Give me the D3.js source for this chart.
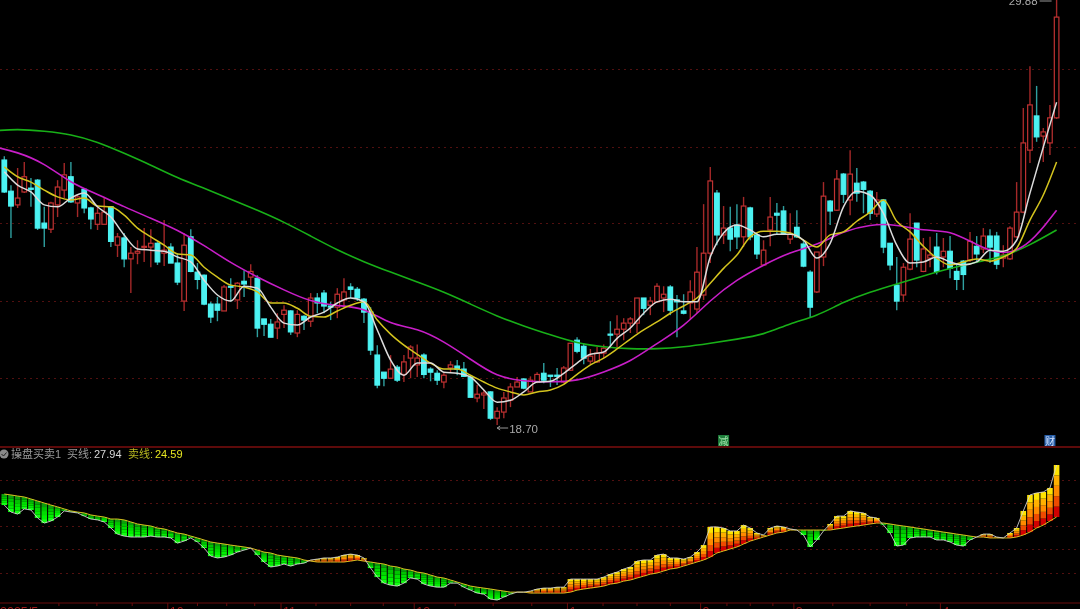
<!DOCTYPE html>
<html><head><meta charset="utf-8">
<script src="https://cdn.jsdelivr.net/npm/d3@7/dist/d3.min.js"></script>
<style>
html,body{margin:0;padding:0;background:#000;overflow:hidden}
svg{display:block;filter:blur(0.45px)}
text{font-family:"Liberation Sans","Noto Sans CJK SC",sans-serif}
</style></head><body>
<svg id="c" width="1080" height="609"></svg>
<script>
const direction = ("CCRRCCCRRR"+"CRCCRRCRCR"+"RRRCRCCRCC"+"CCCRCRCRCC"+"CRRCRCRCCC"+"RRCCCCCCRC"+"RRRCCCRRCC"+"CRRCRRRRCR"+"RCCCRRCCRR"+"RCRRRRCRRR"+"CCCRRRRCRC"+"CRCCRRCCRC"+"CCRRCRCRCC"+"CRCCCRRCRR"+"CRCCCRCRCC"+"RRRRRCRRR").split("");
const highs = [25.77,25.01,25.46,25.62,25.20,25.17,24.44,24.57,25.14,25.59,
25.62,24.75,24.93,24.44,24.46,24.70,24.46,23.75,23.75,23.38,
23.56,23.88,23.85,23.51,24.09,23.48,23.22,23.75,23.85,22.96,
22.66,21.94,22.07,22.38,22.56,22.46,22.77,22.93,22.64,21.49,
21.49,21.64,21.85,21.72,21.72,21.59,22.17,22.17,22.25,21.94,
22.30,22.56,22.43,22.33,22.04,21.80,20.80,20.09,20.54,20.28,
20.54,20.80,20.82,20.59,20.22,20.14,20.09,20.38,20.41,20.36,
20.01,19.75,19.62,19.59,19.17,19.57,19.80,19.96,19.93,19.98,
20.09,20.33,20.01,20.20,20.25,20.85,21.01,20.85,20.70,20.75,
20.82,21.43,21.59,21.51,21.54,22.04,22.04,22.07,22.43,22.35,
22.38,22.12,22.14,22.51,23.38,24.51,25.49,24.88,24.46,24.44,
24.51,24.70,24.44,23.75,23.56,24.70,24.54,24.46,24.27,24.35,
23.56,22.77,23.25,25.09,24.62,25.41,25.33,25.93,25.46,25.12,
24.88,24.83,24.64,23.48,23.12,22.96,24.27,24.01,23.62,23.65,
23.75,23.62,23.67,22.96,23.04,23.78,23.67,23.88,23.85,23.78,
23.43,23.93,25.09,27.04,28.14,27.62,26.51,27.12,29.88];
const bodyHighs = [25.67,24.85,24.67,25.23,24.93,25.14,24.01,24.54,24.96,25.28,
25.23,24.70,24.90,24.41,24.27,24.30,24.44,23.65,23.62,23.22,
23.27,23.40,23.48,23.48,23.30,23.38,22.96,23.43,23.65,22.72,
22.64,21.88,21.88,22.33,22.35,22.43,22.48,22.74,22.56,21.49,
21.35,21.41,21.72,21.70,21.61,21.56,22.04,22.04,22.17,21.83,
22.14,22.20,22.33,22.27,22.01,21.67,20.54,20.09,20.17,20.22,
20.36,20.75,20.46,20.54,20.17,20.06,20.01,20.28,20.25,20.17,
19.96,19.51,19.54,19.57,19.06,19.41,19.70,19.83,19.91,19.88,
20.03,20.06,20.01,20.01,20.20,20.85,20.93,20.77,20.51,20.59,
20.72,21.09,21.22,21.38,21.49,22.04,22.04,21.96,22.35,22.14,
22.33,21.99,21.70,22.20,22.72,23.22,25.12,24.80,23.88,23.88,
23.96,24.46,24.41,23.70,23.30,24.17,24.27,24.33,23.72,23.90,
23.46,22.72,23.25,24.72,24.59,25.17,25.30,25.30,25.06,25.09,
24.85,24.62,24.62,23.48,22.38,22.85,23.59,24.01,23.33,23.17,
23.38,23.27,23.27,22.74,23.01,23.53,23.40,23.67,23.67,23.67,
23.17,23.88,24.30,26.12,27.12,26.83,26.41,26.78,29.43];
const bodyLows = [24.83,24.46,24.49,24.83,24.90,23.88,23.88,23.85,24.49,24.88,
24.57,24.54,24.41,24.12,23.98,23.98,23.53,23.43,23.07,23.07,
23.22,23.38,23.38,22.99,23.22,22.96,22.46,21.96,22.74,22.53,
21.88,21.54,21.72,21.70,22.33,21.99,22.41,22.59,21.25,21.35,
21.01,21.25,21.61,21.15,21.12,21.46,21.43,21.91,21.83,21.80,
21.80,21.99,22.27,22.04,21.67,20.67,19.75,19.93,19.93,19.88,
20.03,20.46,20.28,20.03,20.09,19.88,19.83,20.20,20.17,19.98,
19.43,19.41,19.49,18.88,18.88,19.04,19.35,19.70,19.67,19.57,
19.83,19.88,19.98,19.98,19.83,20.14,20.64,20.46,20.38,20.36,
20.59,21.07,21.09,21.22,21.38,21.38,21.77,21.85,21.94,22.04,
21.72,21.94,21.64,21.91,21.75,22.12,23.22,23.70,23.70,23.59,
23.65,23.65,23.65,23.20,22.91,23.83,24.22,23.72,23.59,23.65,
22.88,21.80,22.20,23.12,24.33,24.35,24.77,24.62,24.80,24.90,
24.27,24.25,23.38,22.91,21.96,22.12,22.80,23.04,22.74,23.09,
22.74,23.12,22.82,22.53,22.66,23.04,23.20,23.33,23.38,22.93,
23.09,23.07,23.65,24.30,25.93,26.28,26.30,26.12,26.78];
const lows = [24.80,23.62,24.41,24.80,24.44,23.83,23.38,23.75,24.17,24.67,
24.54,24.17,24.27,23.85,23.83,23.98,23.38,23.12,22.85,22.17,
22.93,22.99,22.85,22.91,22.88,22.96,22.38,21.70,22.72,22.27,
21.85,21.38,21.43,21.70,21.94,21.75,22.07,22.30,21.01,21.04,
21.01,20.96,21.25,21.07,21.01,21.20,21.28,21.64,21.64,21.46,
21.51,21.80,22.04,21.96,21.38,20.54,19.67,19.72,19.93,19.83,
19.83,19.93,19.96,19.93,19.85,19.75,19.67,20.09,20.01,19.96,
19.43,19.30,19.12,18.83,18.70,18.88,19.17,19.70,19.64,19.57,
19.80,19.80,19.70,19.75,19.80,20.12,20.59,20.30,20.30,20.33,
20.46,20.72,20.75,20.93,21.12,21.12,21.59,21.59,21.91,21.67,
21.59,21.01,21.61,21.49,21.64,21.99,22.96,23.43,23.46,23.27,
23.33,23.38,23.56,23.07,22.88,23.40,23.72,23.70,23.46,23.62,
22.85,21.54,22.17,22.88,23.96,24.33,24.54,24.22,24.57,24.27,
24.09,24.17,23.22,22.77,21.72,21.94,22.77,22.85,22.72,22.85,
22.66,22.85,22.56,22.25,22.25,22.99,22.96,23.22,22.96,22.80,
22.85,23.04,23.62,24.27,25.59,26.15,25.62,25.80,26.75];

// moving averages, last reading aligned with the last candle
const ma5 = [25.36,25.01,24.83,24.49,24.44,24.67,24.80,24.44,24.17,23.70,23.33,23.30,23.27,23.12,22.99,22.51,22.12,21.96,22.35,22.30,
21.80,21.38,21.33,21.54,21.67,21.91,22.04,21.94,21.20,20.41,20.01,20.33,20.33,20.09,20.06,19.96,19.62,19.30,19.35,19.57,
19.83,19.85,20.06,20.33,20.56,20.62,20.98,21.25,21.64,21.94,22.01,21.94,21.94,23.12,23.75,23.96,23.83,23.65,23.72,23.72,
23.56,23.09,23.48,24.44,24.85,24.75,24.27,23.43,22.96,22.99,23.12,22.99,22.91,22.99,23.30,23.27,23.56,24.80,26.01,27.19];
const ma10 = [25.49,25.23,25.09,24.88,24.70,24.62,24.67,24.46,24.44,24.22,23.88,23.65,23.43,23.20,23.17,22.85,22.59,22.38,22.33,22.20,
21.91,21.91,21.77,21.56,21.54,21.70,21.85,21.94,21.46,21.09,20.80,20.56,20.33,20.17,20.17,20.01,19.83,19.67,19.57,19.49,
19.57,19.62,19.77,20.03,20.28,20.46,20.70,20.96,21.20,21.41,21.64,21.83,22.04,22.43,22.82,23.17,23.65,23.80,23.80,23.75,
23.56,23.38,23.70,23.78,24.06,24.30,24.62,24.06,23.78,23.40,23.09,22.91,22.99,23.07,23.01,23.12,23.35,24.09,24.75,25.62];
const ma20 = [26.04,25.88,25.59,25.06,24.77,24.44,24.14,23.83,23.43,22.96,22.59,22.25,21.94,21.83,21.80,21.33,21.25,20.90,20.43,19.96,
19.85,19.83,19.85,20.09,20.36,20.85,21.28,21.99,22.53,22.91,23.25,23.43,23.80,23.98,23.98,23.80,23.83,23.43,23.14,23.43,24.35];
const ma60 = [26.43,26.49,26.43,26.35,26.15,25.85,25.54,25.20,24.93,24.64,24.35,24.04,23.67,23.30,22.99,22.72,22.46,22.20,21.88,21.56,
21.30,21.07,20.85,20.75,20.70,20.70,20.75,20.85,20.96,21.07,21.38,21.56,21.94,22.20,22.41,22.62,22.82,22.99,23.12,23.43,23.83];
const ma5Step = 2, ma10Step = 2, ma20Step = 4, ma60Step = 4;

const sellLine = [26.07,26.01,25.94,25.88,25.75,25.62,25.49,25.36,25.24,25.11,
24.98,24.91,24.85,24.72,24.65,24.59,24.46,24.46,24.40,24.27,
24.14,24.07,24.01,23.88,23.82,23.69,23.56,23.49,23.36,23.24,
23.11,22.98,22.91,22.85,22.78,22.72,22.66,22.59,22.46,22.33,
22.27,22.14,22.07,22.01,21.95,21.82,21.75,21.69,21.69,21.69,
21.69,21.69,21.75,21.82,21.75,21.69,21.62,21.56,21.43,21.37,
21.24,21.17,21.04,20.98,20.85,20.72,20.66,20.53,20.40,20.27,
20.14,20.07,20.01,19.95,19.88,19.82,19.75,19.75,19.75,19.69,
19.69,19.69,19.69,19.69,19.69,19.75,19.88,19.95,20.01,20.07,
20.14,20.27,20.33,20.46,20.53,20.66,20.78,20.91,20.98,21.11,
21.24,21.30,21.43,21.56,21.69,21.82,22.01,22.27,22.40,22.53,
22.66,22.85,23.04,23.17,23.30,23.43,23.56,23.62,23.75,23.75,
23.75,23.75,23.75,23.75,23.75,23.82,23.88,23.95,24.01,24.07,
24.14,24.20,24.20,24.14,24.07,24.01,23.95,23.88,23.82,23.75,
23.69,23.62,23.56,23.49,23.43,23.36,23.30,23.30,23.24,23.24,
23.24,23.24,23.30,23.43,23.62,23.88,24.07,24.33,24.59];
const buyLine = [25.36,24.91,24.78,25.11,25.04,24.53,24.20,24.33,24.59,24.98,
24.91,24.85,24.65,24.46,24.40,24.27,23.88,23.49,23.36,23.30,
23.30,23.30,23.36,23.30,23.30,23.24,22.91,23.04,23.24,22.98,
22.59,22.07,21.95,22.01,22.14,22.33,22.46,22.59,22.14,21.69,
21.37,21.43,21.56,21.43,21.56,21.62,21.82,21.88,21.95,21.95,
22.01,22.14,22.20,22.14,21.95,21.30,20.72,20.33,20.20,20.14,
20.33,20.66,20.59,20.27,20.14,20.07,20.07,20.33,20.33,20.07,
19.88,19.69,19.62,19.30,19.24,19.43,19.62,19.75,19.75,19.82,
19.95,20.01,20.01,20.07,20.07,20.59,20.59,20.59,20.59,20.59,
20.72,20.91,21.04,21.24,21.37,21.75,21.82,21.82,22.14,22.20,
21.95,21.95,21.88,22.01,22.33,22.78,23.95,23.95,23.88,23.69,
23.69,24.07,23.88,23.56,23.43,23.88,24.01,23.95,23.82,23.75,
23.43,22.66,23.11,23.69,24.14,24.65,24.65,24.98,24.91,24.85,
24.59,24.53,24.07,23.56,22.72,22.78,23.24,23.30,23.30,23.30,
23.11,23.11,22.98,22.78,22.72,23.11,23.30,23.49,23.49,23.30,
23.24,23.56,23.88,24.98,26.01,26.14,26.20,26.46,27.94];

const priceGrid = [28.07,26.01,24.01,21.96,19.93];
const indicatorGrid = [27,25.5,24,22.5,21];
const minorTicks = [8.2,13.9,19.2,29,33.4,37.6,46.8,52,56.9,67.7,73.4,79.2,89.9,95,100,108.5,112,115.4,124.4,130,135.5];
const majorTicks = [25,42,62,85,105,119,141];
const majorLabels = ["10","11","12","1","2","3","4"];
const startLabel = "2025/5";
const title = "操盘买卖1", buyName = "买线:", sellName = "卖线:";
const hiLabel = "29.88", loLabel = "18.70";
const warmBands = ["#d20000","#ee4a00","#ff8a00","#ffb000","#ffe400"];
const greenBands = ["#0c9c0c","#00c400","#00dc00","#00f000","#12ff12"];

const svg = d3.select("#c");
const W = 1080, H = 609;
svg.append("rect").attr("width",W).attr("height",H).attr("fill","#000");

const last = direction.length-1;
const x = d3.scaleLinear().domain([0,last]).range([4.3,1056.6]);
const y = d3.scaleLinear().domain([29.88,18.70]).range([0,425]);
const yL = d3.scaleLinear().domain([27.94,24.59]).range([465,517]);

// grids
const gridStyle = s => s.attr("stroke","#521010").attr("stroke-width",1).attr("stroke-dasharray","2 4");
svg.append("g").selectAll("line").data(priceGrid).join("line")
  .attr("x1",0).attr("x2",W).attr("y1",d=>Math.round(y(d))+.5).attr("y2",d=>Math.round(y(d))+.5).call(gridStyle);
svg.append("g").selectAll("line").data(indicatorGrid).join("line")
  .attr("x1",0).attr("x2",W).attr("y1",d=>Math.round(yL(d))+.5).attr("y2",d=>Math.round(yL(d))+.5).call(gridStyle);

// candles
const idx = d3.range(direction.length);
const UP_W = "#a42828", DN_W = "#2fa0a0";
const g = svg.append("g");
g.selectAll("line.w").data(idx).join("line").attr("class","w")
  .attr("x1",i=>x(i)).attr("x2",i=>x(i)).attr("y1",i=>y(highs[i])).attr("y2",i=>y(lows[i]))
  .attr("stroke",i=>direction[i]==="R"?UP_W:DN_W).attr("stroke-width",1.4);
g.selectAll("rect.b").data(idx).join("rect").attr("class","b")
  .attr("x",i=>x(i)-2.3).attr("width",4.6)
  .attr("y",i=>y(bodyHighs[i])).attr("height",i=>Math.max(1,y(bodyLows[i])-y(bodyHighs[i])))
  .attr("fill",i=>direction[i]==="R"?"#000":"#4cf2f2")
  .attr("stroke",i=>direction[i]==="R"?"#c03232":"#4cf2f2").attr("stroke-width",1.2);

// moving averages
function drawMA(vals,step,color,w,curve){
  const at = k => last-step*(vals.length-1-k);
  const line = d3.line().x((d,k)=>x(at(k))).y(d=>y(d)).curve(curve);
  svg.append("path").attr("d",line(vals)).attr("fill","none").attr("stroke",color).attr("stroke-width",w);
}
drawMA(ma60,ma60Step,"#18b018",1.6,d3.curveBasis);
drawMA(ma20,ma20Step,"#c81ec8",1.6,d3.curveBasis);
drawMA(ma10,ma10Step,"#d4c41e",1.5,d3.curveMonotoneX);
drawMA(ma5,ma5Step,"#dcdcdc",1.5,d3.curveMonotoneX);

// annotations
const iLo = lows.indexOf(d3.min(lows)), iHi = highs.indexOf(d3.max(highs));
svg.append("text").attr("x",x(iLo)+12).attr("y",y(lows[iLo])+7.5).attr("fill","#a8a8a8").attr("font-size",11.5).text(loLabel);
svg.append("path").attr("d",`M${x(iLo)} ${y(lows[iLo])+3}h11M${x(iLo)+3} ${y(lows[iLo])+1}l-3 2l3 2`).attr("fill","none").attr("stroke","#a8a8a8").attr("stroke-width",.9);
svg.append("text").attr("x",x(iHi)-19).attr("y",y(highs[iHi])+5).attr("text-anchor","end").attr("fill","#a8a8a8").attr("font-size",11.5).text(hiLabel);
svg.append("path").attr("d",`M${x(iHi)-17} ${y(highs[iHi])+1}h12`).attr("fill","none").attr("stroke","#a8a8a8").attr("stroke-width",.9);

// event badges
const badges = [{i:108,t:"减",c:"#1f7f3c",f:"#9fe0a8"},{i:157,t:"财",c:"#275ea8",f:"#d5e4ff"}];
const bg = svg.append("g").selectAll("g").data(badges).join("g");
bg.append("rect").attr("x",d=>x(d.i)-5.5).attr("y",435).attr("width",11).attr("height",11).attr("fill",d=>d.c);
bg.append("text").attr("x",d=>x(d.i)).attr("y",445).attr("text-anchor","middle").attr("font-size",10).attr("fill",d=>d.f).text(d=>d.t);

// panel separators
svg.append("line").attr("x1",0).attr("x2",W).attr("y1",447).attr("y2",447).attr("stroke","#7c0e0e").attr("stroke-width",1.4);
svg.append("line").attr("x1",0).attr("x2",W).attr("y1",603).attr("y2",603).attr("stroke","#6a0c0c").attr("stroke-width",1);

// indicator legend
svg.append("circle").attr("cx",4).attr("cy",454).attr("r",4.5).attr("fill","#8a8a8a");
svg.append("path").attr("d","M1.5 454l2 2l3 -3.5").attr("fill","none").attr("stroke","#222").attr("stroke-width",1);
const lg = svg.append("g").attr("font-size",11);
lg.append("text").attr("x",11).attr("y",458).attr("fill","#9a9a9a").text(title);
lg.append("text").attr("x",67).attr("y",458).attr("fill","#9a9a9a").text(buyName);
lg.append("text").attr("x",94).attr("y",458).attr("fill","#d8d8d8").text(buyLine[last].toFixed(2));
lg.append("text").attr("x",128).attr("y",458).attr("fill","#b8b820").text(sellName);
lg.append("text").attr("x",155).attr("y",458).attr("fill","#e6e620").text(sellLine[last].toFixed(2));

// indicator columns: five stacked bands between the sell and buy lines
const bands = d3.range(5);
const cols = svg.append("g").selectAll("g").data(idx).join("g");
cols.selectAll("rect").data(i=>bands.map(k=>({i,k}))).join("rect")
  .attr("x",d=>x(d.i)-2.8).attr("width",5.6)
  .attr("y",d=>{const a=yL(sellLine[d.i]),b=yL(buyLine[d.i]);return Math.min(a+(b-a)*d.k/5,a+(b-a)*(d.k+1)/5);})
  .attr("height",d=>Math.abs(yL(buyLine[d.i])-yL(sellLine[d.i]))/5)
  .attr("fill",d=>buyLine[d.i]>=sellLine[d.i]?warmBands[d.k]:greenBands[d.k]);
const lineL = d3.line().x((d,i)=>x(i)).y(d=>yL(d));
svg.append("path").attr("d",lineL(sellLine)).attr("fill","none").attr("stroke","#d8c020").attr("stroke-width",1);
svg.append("path").attr("d",lineL(buyLine)).attr("fill","none").attr("stroke","#cfcfcf").attr("stroke-width",.9);

// time axis
const ta = svg.append("g").attr("stroke","#6a0c0c");
ta.selectAll("line.m").data(minorTicks).join("line").attr("class","m")
  .attr("x1",d=>x(d)).attr("x2",d=>x(d)).attr("y1",603).attr("y2",606);
ta.selectAll("line.M").data(majorTicks).join("line").attr("class","M")
  .attr("x1",d=>x(d)-3).attr("x2",d=>x(d)-3).attr("y1",603).attr("y2",609);
const tl = svg.append("g").attr("font-size",12.5).attr("fill","#a01c1c");
tl.selectAll("text").data(majorTicks).join("text").attr("x",d=>x(d)-1).attr("y",616).text((d,i)=>majorLabels[i]);
tl.append("text").attr("x",0).attr("y",616).text(startLabel);
</script>
</body></html>
